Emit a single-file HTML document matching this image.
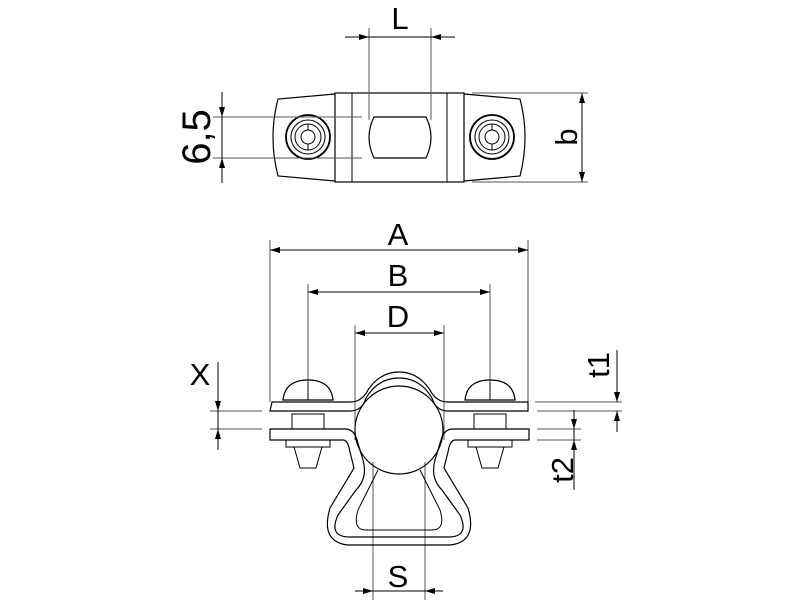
<!DOCTYPE html>
<html><head><style>html,body{margin:0;padding:0;background:#fff}svg{display:block}</style></head><body>
<svg width="800" height="600" viewBox="0 0 800 600" xmlns="http://www.w3.org/2000/svg" font-family="Liberation Sans, sans-serif">
<defs>
<marker id="ar" viewBox="0 0 10 6" refX="10" refY="3" markerWidth="11" markerHeight="6" markerUnits="userSpaceOnUse" orient="auto"><path d="M0,0 L10,3 L0,6 Z" fill="#000"/></marker>
</defs>
<g stroke="#000" fill="none" stroke-width="1">
<!-- top view -->
<path d="M335,94 L278,99 Q268,137 278,176 L335,181" stroke-width="1.2"/>
<path d="M464,94 L520,99 Q530,137 520,176 L464,181" stroke-width="1.2"/>
<rect x="335" y="93" width="129" height="89" stroke-width="1.2"/>
<line x1="352" y1="93" x2="352" y2="182"/><line x1="447" y1="93" x2="447" y2="182"/>
<path d="M374,117 L426,117 Q436,137 426,158 L374,158 Q364,137 374,117 Z" stroke-width="1.2"/>
<g id="w"><circle cx="308" cy="137" r="22" stroke-width="1.8"/><circle cx="308" cy="137" r="17"/><circle cx="308" cy="137" r="13"/><circle cx="308" cy="137" r="7"/><line x1="308" y1="124" x2="308" y2="130"/><line x1="308" y1="144" x2="308" y2="150"/></g>
<use href="#w" x="184"/>
<!-- top dims -->
<line x1="369" y1="28" x2="369" y2="120" stroke="#555"/><line x1="431" y1="28" x2="431" y2="120" stroke="#555"/>
<line x1="345" y1="37" x2="369" y2="37" marker-end="url(#ar)"/><line x1="455" y1="37" x2="431" y2="37" marker-end="url(#ar)"/><line x1="369" y1="37" x2="431" y2="37"/>
<line x1="213" y1="117" x2="362" y2="117" stroke="#555"/><line x1="213" y1="158" x2="362" y2="158" stroke="#555"/>
<line x1="222" y1="92" x2="222" y2="117" marker-end="url(#ar)"/><line x1="222" y1="183" x2="222" y2="158" marker-end="url(#ar)"/><line x1="222" y1="117" x2="222" y2="158"/>
<line x1="472" y1="93" x2="588" y2="93" stroke="#555"/><line x1="472" y1="182" x2="588" y2="182" stroke="#555"/>
<line x1="582" y1="137" x2="582" y2="93" marker-end="url(#ar)"/><line x1="582" y1="137" x2="582" y2="182" marker-end="url(#ar)"/>
<!-- bottom dims -->
<line x1="270" y1="240" x2="270" y2="402" stroke="#555"/><line x1="528" y1="240" x2="528" y2="402" stroke="#555"/>
<line x1="399" y1="250" x2="270" y2="250" marker-end="url(#ar)"/><line x1="399" y1="250" x2="528" y2="250" marker-end="url(#ar)"/>
<line x1="308" y1="284" x2="308" y2="382" stroke="#555"/><line x1="490" y1="284" x2="490" y2="382" stroke="#555"/>
<line x1="399" y1="292" x2="308" y2="292" marker-end="url(#ar)"/><line x1="399" y1="292" x2="490" y2="292" marker-end="url(#ar)"/>
<line x1="355" y1="325" x2="355" y2="440" stroke="#555"/><line x1="444" y1="325" x2="444" y2="440" stroke="#555"/>
<line x1="399" y1="333" x2="355" y2="333" marker-end="url(#ar)"/><line x1="399" y1="333" x2="444" y2="333" marker-end="url(#ar)"/>
<line x1="210" y1="411" x2="262" y2="411" stroke="#555"/><line x1="210" y1="429" x2="262" y2="429" stroke="#555"/>
<line x1="218" y1="362" x2="218" y2="411" marker-end="url(#ar)"/><line x1="218" y1="450" x2="218" y2="429" marker-end="url(#ar)"/><line x1="218" y1="411" x2="218" y2="429"/>
<line x1="535" y1="402" x2="622" y2="402" stroke="#555"/><line x1="537" y1="411" x2="622" y2="411" stroke="#555"/>
<line x1="617" y1="350" x2="617" y2="402" marker-end="url(#ar)"/><line x1="617" y1="432" x2="617" y2="411" marker-end="url(#ar)"/>
<line x1="537" y1="429" x2="581" y2="429" stroke="#555"/><line x1="537" y1="440" x2="581" y2="440" stroke="#555"/>
<line x1="574" y1="410" x2="574" y2="429" marker-end="url(#ar)"/><line x1="574" y1="490" x2="574" y2="440" marker-end="url(#ar)"/><line x1="574" y1="429" x2="574" y2="440"/>
<line x1="373" y1="462" x2="373" y2="600" stroke="#555"/><line x1="425" y1="462" x2="425" y2="600" stroke="#555"/>
<line x1="355" y1="591" x2="373" y2="591" marker-end="url(#ar)"/><line x1="443" y1="591" x2="425" y2="591" marker-end="url(#ar)"/><line x1="373" y1="591" x2="425" y2="591"/>
<!-- clip drawing -->
<circle cx="399" cy="430" r="44" stroke-width="1.2"/>
<path d="M272,402 L350,402 Q362,402 368,390 Q380,372 399,372 Q418,372 430,390 Q436,402 448,402 L528,402 L528,411 L448,411 Q436,411 432,398 Q420,378 399,378 Q378,378 366,398 Q362,411 350,411 L270,411 Z" stroke-width="1.2"/>
<path d="M270,429 L345,429 Q354,429 357,440 L363,460 Q368,478 356,490 L338,515 Q328,537 350,537 L448,537 Q470,537 460,515 L442,490 Q430,478 435,460 L441,440 Q444,429 453,429 L529,429 L529,440 L455,440 Q450,440 448,452 L444,468 L468,508 Q478,542 450,545 L348,545 Q320,542 330,508 L354,468 L350,452 Q348,440 343,440 L270,440 Z" stroke-width="1.2"/>
<path d="M378,470 L358,510 Q352,530 366,530 L432,530 Q446,530 440,510 L420,470" stroke-width="1"/>
<g id="s">
<path d="M283,400 Q285,380 308,380 Q331,380 333,400 Z" stroke-width="1.2"/>
<line x1="308" y1="382" x2="308" y2="400"/>
<rect x="292" y="414" width="32" height="15"/>
<rect x="286" y="440" width="44" height="7"/>
<path d="M294,447 L322,447 L316,468 L300,468 Z"/>
</g>
<use href="#s" x="182"/>
</g>
<g fill="#000" font-size="31" text-anchor="middle">
<text x="400" y="29">L</text>
<text x="398" y="245">A</text>
<text x="398" y="286">B</text>
<text x="398" y="327">D</text>
<text x="200" y="385">X</text>
<text x="398" y="587">S</text>
<text transform="translate(210,137) rotate(-90)" font-size="40">6,5</text>
<text transform="translate(577,137) rotate(-90)">b</text>
<text transform="translate(609,365) rotate(-90)">t1</text>
<text transform="translate(573,470) rotate(-90)">t2</text>
</g>
</svg>
</body></html>
